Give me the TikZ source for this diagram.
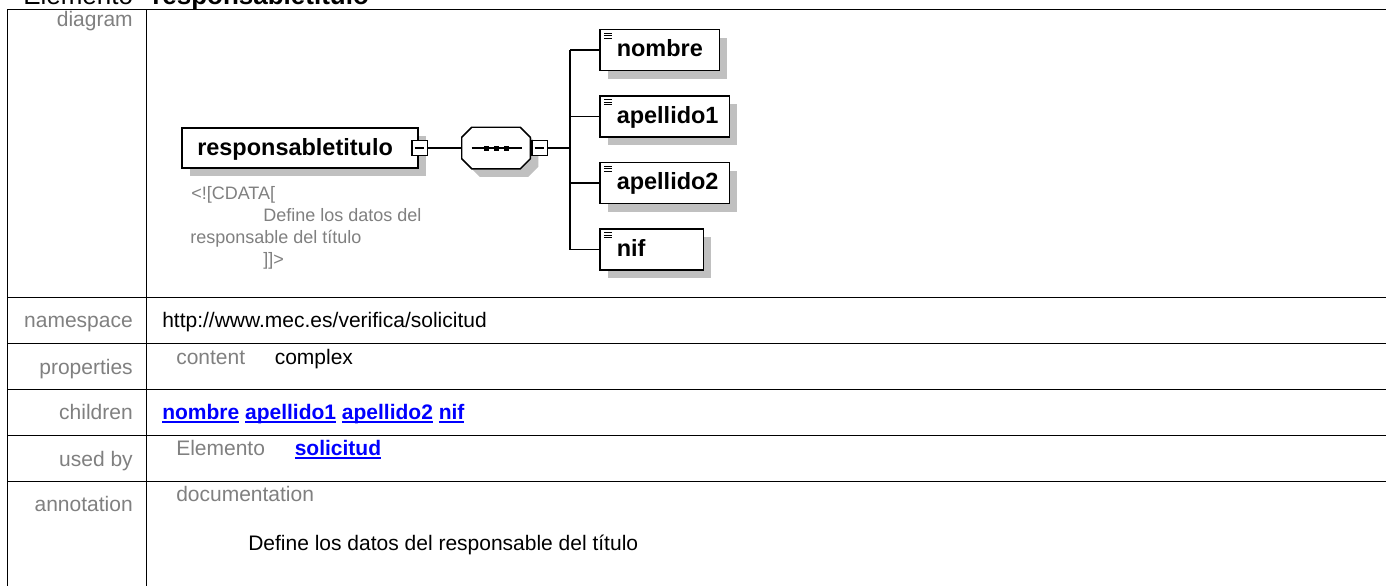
\documentclass[tikz,border=0pt]{standalone}
\usepackage{fontspec}
\setmainfont{Liberation Sans}
\usetikzlibrary{shadows,calc}
\definecolor{labelgray}{RGB}{128,128,128}
\definecolor{shadowgray}{RGB}{192,192,192}
\definecolor{linkblue}{RGB}{0,0,255}
\newcommand\myul[1]{\setbox0\hbox{#1}\rlap{\color{linkblue}\rule[-2.3pt]{\wd0}{1.1pt}}\box0\relax}
\tikzset{
  tfont/.style={font=\fontsize{15.75pt}{18pt}\selectfont},
  lbl/.style={tfont, text=labelgray, anchor=base east, inner sep=0pt},
  txt/.style={tfont, anchor=base west, inner sep=0pt},
  gtxt/.style={txt, text=labelgray},
  link/.style={txt, text=linkblue, font=\fontsize{15.75pt}{18pt}\selectfont\bfseries},
  tline/.style={line width=1.1pt},
  elbox/.style={draw, line width=1.1pt, fill=white, inner sep=0pt, minimum height=30.75pt,
    drop shadow={shadow xshift=6pt, shadow yshift=-6pt, fill=shadowgray, opacity=1}},
  leafbox/.style={elbox, path picture={
    \draw[line width=0.75pt] ([shift={(4,3.5)}]path picture bounding box.north west) -- ++(8,0);
    \draw[line width=0.75pt] ([shift={(4,6.2)}]path picture bounding box.north west) -- ++(8,0);
    \draw[line width=0.75pt] ([shift={(4,8.9)}]path picture bounding box.north west) -- ++(8,0);}},
  eltext/.style={font=\fontsize{17.6pt}{20pt}\selectfont\bfseries, anchor=base west, inner sep=0pt},
  minusbox/.style={draw, line width=1.0pt, fill=white, minimum size=11.5pt, inner sep=0pt,
    path picture={\draw[line width=0.8pt] ([xshift=-3.6pt]path picture bounding box.center) -- ([xshift=3.6pt]path picture bounding box.center);}},
  conn/.style={line width=0.9pt},
  anntext/.style={font=\fontsize{13.5pt}{16pt}\selectfont, text=labelgray, anchor=base west, inner sep=0pt},
  titlefont/.style={font=\fontsize{19.5pt}{22pt}\selectfont, anchor=base west, inner sep=0pt}
}
\begin{document}
\begin{tikzpicture}[x=0.75pt, y=-0.75pt]
\useasboundingbox (0,0) rectangle (1386,586);
\clip (0,0) rectangle (1386,586);
\fill[white] (0,0) rectangle (1386,586);

% title (cut off at top)
\node[titlefont] (ttl1) at (23,4.5) {Elemento};
\node[titlefont, font=\fontsize{19.5pt}{22pt}\selectfont\bfseries] (ttl2) at (152,4.5) {responsabletitulo};

% table grid
\draw[tline] (7.5,9.5) -- (1386,9.5);
\draw[tline] (7.5,297.5) -- (1386,297.5);
\draw[tline] (7.5,343.5) -- (1386,343.5);
\draw[tline] (7.5,389.5) -- (1386,389.5);
\draw[tline] (7.5,435.5) -- (1386,435.5);
\draw[tline] (7.5,481.5) -- (1386,481.5);
\draw[tline] (7.5,9) -- (7.5,586);
\draw[tline] (146.7,9) -- (146.7,586);

% labels
\node[lbl] (ldiag) at (133,26) {diagram};
\node[lbl] (lns) at (133,327.5) {namespace};
\node[lbl] (lprop) at (133,374) {properties};
\node[lbl] (lchild) at (133,419.5) {children};
\node[lbl] (lused) at (133,466) {used by};
\node[lbl] (lann) at (133,511) {annotation};

% row contents
\node[txt] (ns) at (162,327.5) {http://www.mec.es/verifica/solicitud};
\node[gtxt] (pcont) at (176,364) {content};
\node[txt] (pcomp) at (274.5,364) {complex};
\node[link] (ch) at (162,419.5) {\myul{nombre} \myul{apellido1} \myul{apellido2} \myul{nif}};
\node[gtxt] (ubel) at (176,455.5) {Elemento};
\node[link] (ubsol) at (294.5,455.5) {\myul{solicitud}};
\node[gtxt] (adoc) at (176,501) {documentation};
\node[txt] (adef) at (248,550) {Define los datos del responsable del título};

% diagram: main element
\node[elbox, minimum width=177pt, minimum height=30pt] (main) at (300,148) {};
\node[eltext] (maint) at (197,155) {responsabletitulo};
\node[minusbox] (m1) at (419.5,148) {};

% sequence compositor
\node[inner sep=0pt, minimum width=51pt, minimum height=30.75pt] (seq) at (496,148) {};
\fill[shadowgray] ($(seq.north west)+(18,8)$) -- ($(seq.north east)+(-2,8)$) -- ($(seq.north east)+(8,18)$)
  -- ($(seq.south east)+(8,-2)$) -- ($(seq.south east)+(-2,8)$) -- ($(seq.south west)+(18,8)$)
  -- ($(seq.south west)+(8,-2)$) -- ($(seq.north west)+(8,18)$) -- cycle;
\draw[line width=1.1pt, fill=white] ($(seq.north west)+(10,0)$) -- ($(seq.north east)+(-10,0)$) -- ($(seq.north east)+(0,10)$)
  -- ($(seq.south east)+(0,-10)$) -- ($(seq.south east)+(-10,0)$) -- ($(seq.south west)+(10,0)$)
  -- ($(seq.south west)+(0,-10)$) -- ($(seq.north west)+(0,10)$) -- cycle;
\draw[line width=0.8pt] ($(seq.west)+(10,0)$) -- ($(seq.east)+(-8,0)$);
\fill ($(seq.center)+(-12.5,-2.5)$) rectangle ++(5,5);
\fill ($(seq.center)+(-2.5,-2.5)$) rectangle ++(5,5);
\fill ($(seq.center)+(7.5,-2.5)$) rectangle ++(5,5);
\node[minusbox] (m2) at (539.5,148) {};

% children
\node[leafbox, minimum width=89.6pt] (c1) at (659.75,50) {};
\node[leafbox, minimum width=97.1pt] (c2) at (664.75,116.5) {};
\node[leafbox, minimum width=97.1pt] (c3) at (664.75,183) {};
\node[leafbox, minimum width=77.6pt] (c4) at (651.75,249.5) {};
\node[eltext] (c1t) at (616.5,56.5) {nombre};
\node[eltext] (c2t) at (616.5,123) {apellido1};
\node[eltext] (c3t) at (616.5,189.5) {apellido2};
\node[eltext] (c4t) at (616.5,256) {nif};

% connectors
\coordinate (tr) at (570,148);
\draw[conn] (m1.east) -- (seq.west);
\draw[conn] (m2.east) -- (tr);
\draw[conn] (tr |- c1.west) -- (tr |- c4.west);
\draw[conn] (tr |- c1.west) -- (c1.west);
\draw[conn] (tr |- c2.west) -- (c2.west);
\draw[conn] (tr |- c3.west) -- (c3.west);
\draw[conn] (tr |- c4.west) -- (c4.west);

% annotation under main element
\node[anntext] (a1) at (191,199) {<![CDATA[};
\node[anntext] (a2) at (263,221.5) {Define los datos del};
\node[anntext] (a3) at (190,243.5) {responsable del título};
\node[anntext] (a4) at (263,265) {]]>};
\end{tikzpicture}
\end{document}
